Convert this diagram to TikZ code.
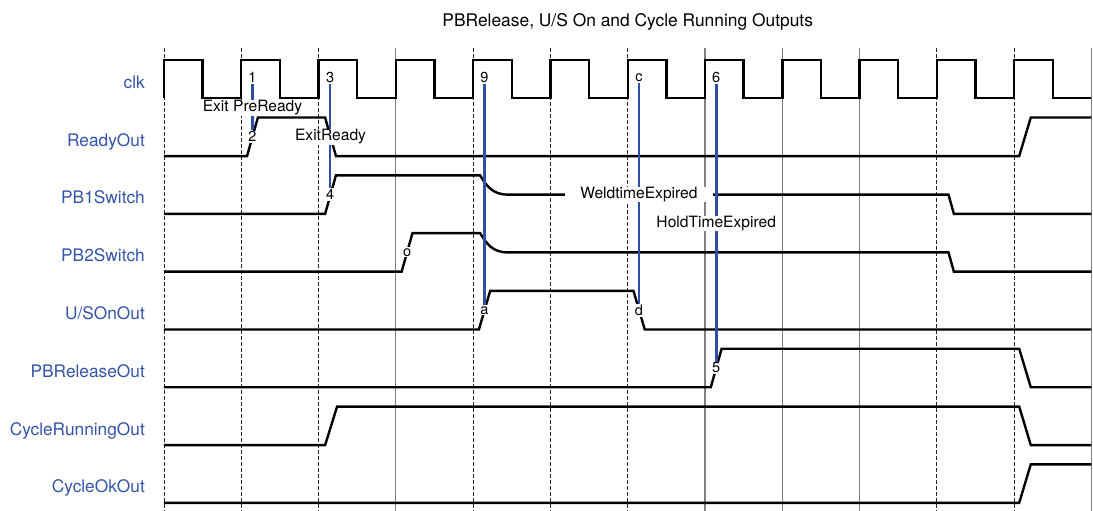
\documentclass[tikz,border=0pt]{standalone}
\usepackage{fontspec}
\setmainfont{TeX Gyre Heros}
\definecolor{labelblue}{RGB}{52,84,168}
\definecolor{markblue}{RGB}{48,78,168}
\tikzset{
 sig/.style={black, line width=2.4pt},
 gridsolid/.style={gray, line width=1.1pt},
 griddash/.style={black!85, line width=0.8pt, dash pattern=on 4pt off 2pt},
 markline/.style={markblue, line width=2.7pt},
 signame/.style={anchor=base east, text=labelblue, inner sep=0pt, font=\fontsize{17.3}{20}\selectfont},
 evt/.style={fill=white, inner sep=1pt, font=\fontsize{14.5}{16}\selectfont},
 note/.style={fill=white, inner xsep=1pt, inner ysep=0.5pt, font=\fontsize{15.6}{18}\selectfont}
}

\begin{document}
\begin{tikzpicture}[x=38.65pt, y=19.27pt]
 \useasboundingbox (-4.243,-0.415) rectangle (24.04,26.1);
 \node[anchor=base, font=\fontsize{17.4}{20}\selectfont] (title) at (12,24.72) {PBRelease, U/S On and Cycle Running Outputs};
 % clock grid
 \draw[griddash] (0,23.61) -- (0,-0.415);
 \draw[griddash] (2,23.61) -- (2,-0.415);
 \draw[griddash] (4,23.61) -- (4,-0.415);
 \draw[gridsolid] (6,23.61) -- (6,-0.415);
 \draw[griddash] (8,23.61) -- (8,-0.415);
 \draw[griddash] (10,23.61) -- (10,-0.415);
 \draw[griddash] (12,23.61) -- (12,-0.415);
 \draw[gridsolid] (14,23.61) -- (14,-0.415);
 \draw[gridsolid] (16,23.61) -- (16,-0.415);
 \draw[gridsolid] (18,23.61) -- (18,-0.415);
 \draw[griddash] (20,23.61) -- (20,-0.415);
 \draw[griddash] (22,23.61) -- (22,-0.415);
 \draw[gridsolid] (24,23.61) -- (24,-0.415);
 % signal names
 \node[signame] (clk) at (-0.49,21.52) {clk};
 \node[signame] (readyout) at (-0.49,18.52) {ReadyOut};
 \node[signame] (pbone) at (-0.49,15.52) {PB1Switch};
 \node[signame] (pbtwo) at (-0.49,12.52) {PB2Switch};
 \node[signame] (usonout) at (-0.49,9.52) {U/SOnOut};
 \node[signame] (pbrelease) at (-0.49,6.52) {PBReleaseOut};
 \node[signame] (cyclerun) at (-0.49,3.52) {CycleRunningOut};
 \node[signame] (cycleok) at (-0.49,0.55) {CycleOkOut};
 % waveforms
 \draw[sig] (0,21) -- (0,23) -- (1,23) -- (1,21) -- (2,21) -- (2,23) -- (3,23) -- (3,21) -- (4,21) -- (4,23) -- (5,23) -- (5,21) -- (6,21) -- (6,23) -- (7,23) -- (7,21) -- (8,21) -- (8,23) -- (9,23) -- (9,21) -- (10,21) -- (10,23) -- (11,23) -- (11,21) -- (12,21) -- (12,23) -- (13,23) -- (13,21) -- (14,21) -- (14,23) -- (15,23) -- (15,21) -- (16,21) -- (16,23) -- (17,23) -- (17,21) -- (18,21) -- (18,23) -- (19,23) -- (19,21) -- (20,21) -- (20,23) -- (21,23) -- (21,21) -- (22,21) -- (22,23) -- (23,23) -- (23,21) -- (24,21);
 \draw[sig] (0,18) -- (2.15,18) -- (2.43,20) -- (4.17,20) -- (4.45,18) -- (22.13,18) -- (22.43,20) -- (24,20);
 \draw[sig] (0,15) -- (4.17,15) -- (4.45,17) -- (8.18,17) .. controls (8.35,16.45) and (8.5,16) .. (8.9,16) -- (20.3,16) -- (20.44,15) -- (24,15);
 \draw[sig] (0,12) -- (6.15,12) -- (6.43,14) -- (8.18,14) .. controls (8.35,13.45) and (8.5,13) .. (8.9,13) -- (20.3,13) -- (20.44,12) -- (24,12);
 \draw[sig] (0,9) -- (8.15,9) -- (8.44,11) -- (12.15,11) -- (12.44,9) -- (24,9);
 \draw[sig] (0,6) -- (14.15,6) -- (14.43,8) -- (22.13,8) -- (22.43,6) -- (24,6);
 \draw[sig] (0,3) -- (4.17,3) -- (4.48,5) -- (22.13,5) -- (22.43,3) -- (24,3);
 \draw[sig] (0,0) -- (22.13,0) -- (22.43,2) -- (24,2);
 % events
 \node[evt] (ev1) at (2.29,22.06) {1};
 \node[evt] (ev2) at (2.29,19) {2};
 \node[evt] (ev3) at (4.3,22.06) {3};
 \node[evt] (ev4) at (4.3,16) {4};
 \node[evt] (evo) at (6.29,13) {o};
 \node[evt] (ev9) at (8.29,22.06) {9};
 \node[evt] (eva) at (8.29,10) {a};
 \node[evt] (evc) at (12.29,22.06) {c};
 \node[evt] (evd) at (12.29,10) {d};
 \node[evt] (ev6) at (14.29,22.06) {6};
 \node[evt] (ev5) at (14.29,7) {5};
 \draw[markline] (ev1) -- (ev2);
 \draw[markline] (ev3) -- (ev4);
 \draw[markline] (ev9) -- (eva);
 \draw[markline] (evc) -- (evd);
 \draw[markline] (ev6) -- (ev5);
 % notes
 \node[note] (preready) at (2.29,20.5) {Exit PreReady};
 \node[note] (exitready) at (4.31,19) {ExitReady};
 \node[note, inner xsep=15pt] (weldexp) at (12.29,16) {WeldtimeExpired};
 \node[note, inner xsep=5pt] (holdexp) at (14.29,14.5) {HoldTimeExpired};
\end{tikzpicture}
\end{document}
